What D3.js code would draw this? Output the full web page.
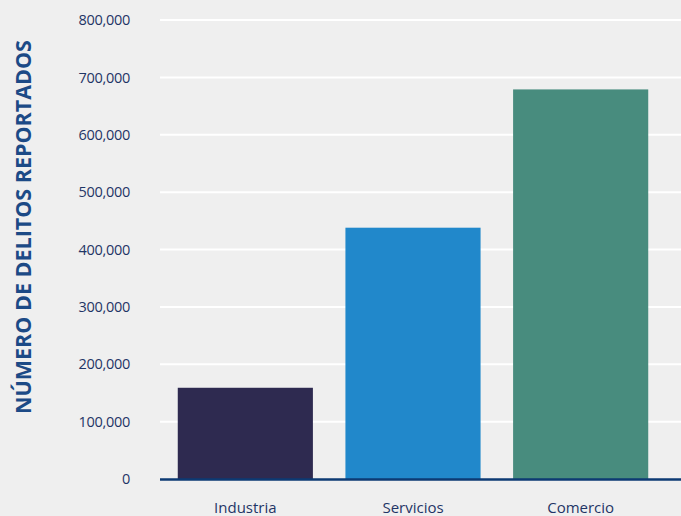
<!DOCTYPE html>
<html lang="es">
<head>
<meta charset="UTF-8">
<title>Delitos reportados por sector</title>
<script src="https://d3js.org/d3.v7.min.js"></script>
<style>
  html, body { margin: 0; padding: 0; background: #efefef; overflow: hidden; }
  svg { display: block; }
  text { font-family: "Open Sans", "Noto Sans", sans-serif; }
</style>
</head>
<body>
<div id="chart"></div>
<script>
// datos
const categorias = ["Industria", "Servicios", "Comercio"];
const delitos = [159000, 438000, 679000];
const colores = ["#2e2a50", "#2188cb", "#488c7e"];
const ticksY = [0, 100000, 200000, 300000, 400000, 500000, 600000, 700000, 800000];

const W = 681, H = 516;
const margin = { top: 20, right: 0, bottom: 37, left: 161 };

const svg = d3.select("#chart").append("svg")
  .attr("width", W)
  .attr("height", H);

svg.append("rect").attr("width", W).attr("height", H).attr("fill", "#efefef");

const x = d3.scaleBand()
  .domain(categorias)
  .range([margin.left, 665])
  .paddingInner(0.194)
  .paddingOuter(0.1);

const y = d3.scaleLinear()
  .domain([0, 800000])
  .range([H - margin.bottom, margin.top]);

// líneas de cuadrícula
svg.append("g")
  .selectAll("line")
  .data(ticksY.slice(1))
  .join("line")
  .attr("x1", margin.left - 1)
  .attr("x2", W)
  .attr("y1", d => y(d))
  .attr("y2", d => y(d))
  .attr("stroke", "#ffffff")
  .attr("stroke-width", 2);

// eje Y (solo etiquetas)
const yAxis = svg.append("g")
  .attr("transform", `translate(${margin.left},0)`)
  .call(d3.axisLeft(y).tickValues(ticksY).tickSize(0).tickPadding(31)
    .tickFormat(d => d === 0 ? "0" : d3.format(",")(d)));
yAxis.select(".domain").remove();
yAxis.selectAll("text")
  .attr("fill", "#1f3566")
  .style("font-size", "14.5px")
  .style("letter-spacing", "-0.3px");

// barras
svg.append("g")
  .selectAll("rect")
  .data(categorias)
  .join("rect")
  .attr("x", d => x(d))
  .attr("width", x.bandwidth())
  .attr("y", (d, i) => y(delitos[i]))
  .attr("height", (d, i) => y(0) - y(delitos[i]))
  .attr("fill", (d, i) => colores[i]);

// línea base
svg.append("line")
  .attr("x1", margin.left - 1)
  .attr("x2", W)
  .attr("y1", y(0) + 0.5)
  .attr("y2", y(0) + 0.5)
  .attr("stroke", "#0d3a73")
  .attr("stroke-width", 2.5);

// eje X (etiquetas de categoría)
const xAxis = svg.append("g")
  .attr("transform", `translate(0,${y(0)})`)
  .call(d3.axisBottom(x).tickSize(0).tickPadding(23));
xAxis.select(".domain").remove();
xAxis.selectAll("text")
  .attr("fill", "#1f3566")
  .style("font-size", "15px");

// título del eje Y
svg.append("text")
  .attr("transform", "translate(31,227) rotate(-90)")
  .attr("text-anchor", "middle")
  .attr("fill", "#1c4a86")
  .style("font-size", "21.5px")
  .style("font-weight", "700")
  .text("NÚMERO DE DELITOS REPORTADOS");
</script>
</body>
</html>
